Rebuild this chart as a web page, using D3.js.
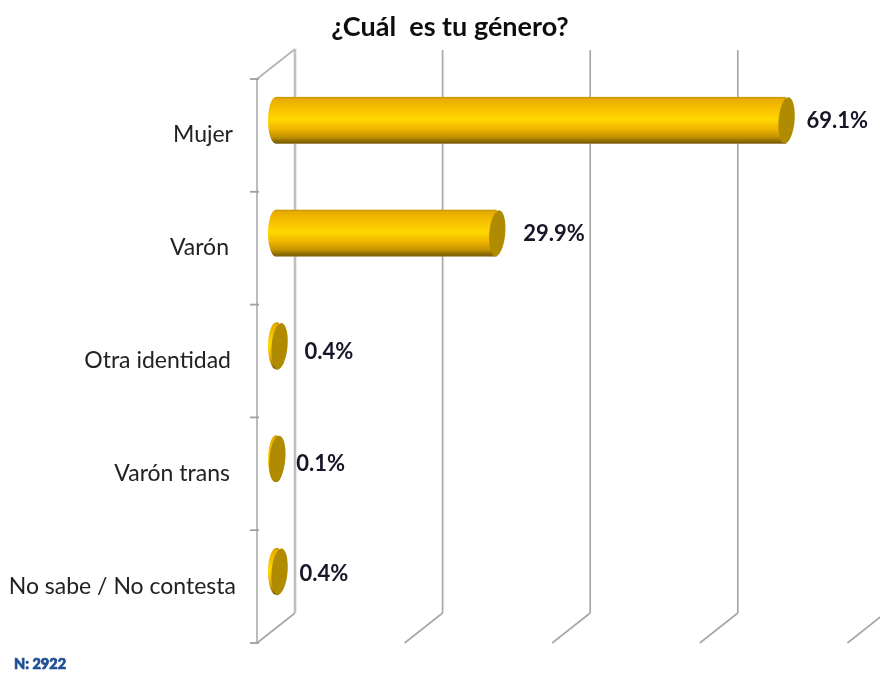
<!DOCTYPE html>
<meta charset="utf-8">
<style>
html, body { margin: 0; padding: 0; background: #fff; overflow: hidden; }
text { font-family: Lato, "Open Sans", sans-serif; }
.wall line { stroke: #b4b4b4; stroke-width: 1.8px; }
.grid line { stroke: #a8a8a8; stroke-width: 1.7px; }
</style>
<svg width="880" height="673"></svg>
<script src="https://d3js.org/d3.v7.min.js"></script>
<script>

// data
var categories = ["Mujer", "Varón", "Otra identidad", "Varón trans", "No sabe / No contesta"];
var values = [69.1, 29.9, 0.4, 0.1, 0.4];
var gridTicks = [0, 20, 40, 60, 80, 100];
var title = "¿Cuál  es tu género?";
var footnote = "N: 2922";

// labels don't line up exactly in the original
var catRight = [233, 229, 231, 230, 236];
var labelNudgeX = [0, 6, 5, -1, 0];
var labelNudgeY = [0, 0, 5, 4, 1];

var svg = d3.select("svg");

var frontX = 257, frontTop = 79, frontBottom = 643;
var depthX = 38, depthY = 30;
var rx = 8;

var x = d3.scaleLinear().domain([0, 100]).range([frontX, frontX + 738]);
var y = d3.scaleBand().domain(categories).range([frontTop, frontBottom]);
var barH = 47;

var defs = svg.append("defs");
var grad = defs.append("linearGradient")
    .attr("id", "cyl")
    .attr("x1", 0).attr("x2", 0).attr("y1", 0).attr("y2", 1);
[[0, "#c09400"], [0.05, "#e8ac00"], [0.25, "#f6c000"], [0.48, "#ffd800"],
 [0.68, "#f0b600"], [0.85, "#c49400"], [0.97, "#7d6000"], [1, "#a08a50"]].forEach(function(s) {
  grad.append("stop").attr("offset", s[0]).attr("stop-color", s[1]);
});

var soft = defs.append("filter").attr("id", "soft");
soft.append("feGaussianBlur").attr("stdDeviation", 0.5);
var softer = defs.append("filter").attr("id", "softer")
    .attr("x", "-10%").attr("width", "120%").attr("y", "-30%").attr("height", "160%");
softer.append("feGaussianBlur").attr("stdDeviation", 0.6);

var chart = svg.append("g").attr("filter", "url(#soft)");

// ----------------- walls and grid ------------------------
var grid = chart.append("g").attr("class", "grid");
grid.selectAll(".back").data(gridTicks).enter().append("line")
    .attr("class", "back")
    .attr("x1", function(d) { return x(d) + depthX; })
    .attr("x2", function(d) { return x(d) + depthX; })
    .attr("y1", frontTop - depthY + 1)
    .attr("y2", frontBottom - depthY);
grid.selectAll(".floor").data(gridTicks).enter().append("line")
    .attr("class", "floor")
    .attr("x1", function(d) { return x(d); })
    .attr("x2", function(d) { return x(d) + depthX; })
    .attr("y1", frontBottom)
    .attr("y2", frontBottom - depthY);

var wall = chart.append("g").attr("class", "wall");
wall.append("line")
    .attr("x1", frontX).attr("x2", frontX)
    .attr("y1", frontTop).attr("y2", frontBottom);
wall.append("line")
    .attr("x1", frontX).attr("x2", frontX + depthX)
    .attr("y1", frontTop).attr("y2", frontTop - depthY);
wall.append("line")
    .attr("x1", x(0) + depthX).attr("x2", x(0) + depthX)
    .attr("y1", frontTop - depthY).attr("y2", frontBottom - depthY)
    .style("stroke-width", "2.6px").style("stroke", "#c0c0c0");

// tick marks on the category axis
wall.selectAll(".tick").data(d3.range(categories.length + 1)).enter().append("line")
    .attr("x1", frontX - 7).attr("x2", frontX + 2)
    .attr("y1", function(i) { return frontTop + i * y.step(); })
    .attr("y2", function(i) { return frontTop + i * y.step(); })
    .style("stroke", "#a0a0a0");

// ----------------- cylinders ------------------------
function barY(d) { return y(d) + y.bandwidth() / 2 - depthY / 2; }
var midX = function(v) { return x(v) + depthX / 2; };

var bars = chart.selectAll(".bar").data(categories).enter().append("g").attr("class", "bar");

bars.append("ellipse")
    .attr("cx", midX(0))
    .attr("cy", barY)
    .attr("rx", rx)
    .attr("ry", barH / 2)
    .attr("fill", "url(#cyl)");
bars.append("rect")
    .attr("x", midX(0))
    .attr("y", function(d) { return barY(d) - barH / 2; })
    .attr("width", function(d, i) { return x(values[i]) - x(0); })
    .attr("height", barH)
    .attr("fill", "url(#cyl)");
// end cap, slightly leaning like the original
bars.append("ellipse")
    .attr("cx", function(d, i) { return midX(values[i]) + 0.6; })
    .attr("cy", barY)
    .attr("rx", rx)
    .attr("ry", barH / 2 - 0.3)
    .attr("fill", "#b08b00")
    .attr("transform", function(d, i) { return "rotate(5 " + midX(values[i]) + " " + barY(d) + ")"; });

// ----------------- text ------------------------
var txt = svg.append("g").attr("filter", "url(#softer)");

txt.append("text")
    .attr("x", 450).attr("y", 36)
    .attr("text-anchor", "middle")
    .style("font-size", "27px").style("font-weight", 700)
    .style("white-space", "pre")
    .attr("fill", "#111")
    .text(title);

txt.selectAll(".cat").data(categories).enter().append("text")
    .attr("class", "cat")
    .attr("x", function(d, i) { return catRight[i]; })
    .attr("y", function(d) { return y(d) + y.bandwidth() / 2 + 7; })
    .attr("text-anchor", "end")
    .style("font-size", "23px")
    .attr("fill", "#222")
    .text(function(d) { return d; });

txt.selectAll(".val").data(values).enter().append("text")
    .attr("class", "val")
    .attr("x", function(d, i) { return midX(d) + 7.5 + 13 + labelNudgeX[i]; })
    .attr("y", function(d, i) { return barY(categories[i]) + 8 + labelNudgeY[i]; })
    .style("font-size", "22px").style("font-weight", 700)
    .attr("fill", "#141428")
    .text(function(d) { return d.toFixed(1) + "%"; });

txt.append("text")
    .attr("x", 14).attr("y", 669)
    .style("font-size", "14.5px").style("font-weight", 900)
    .attr("fill", "#1f4f96")
    .attr("stroke", "#1f4f96").attr("stroke-width", 0.7)
    .text(footnote);

</script>
